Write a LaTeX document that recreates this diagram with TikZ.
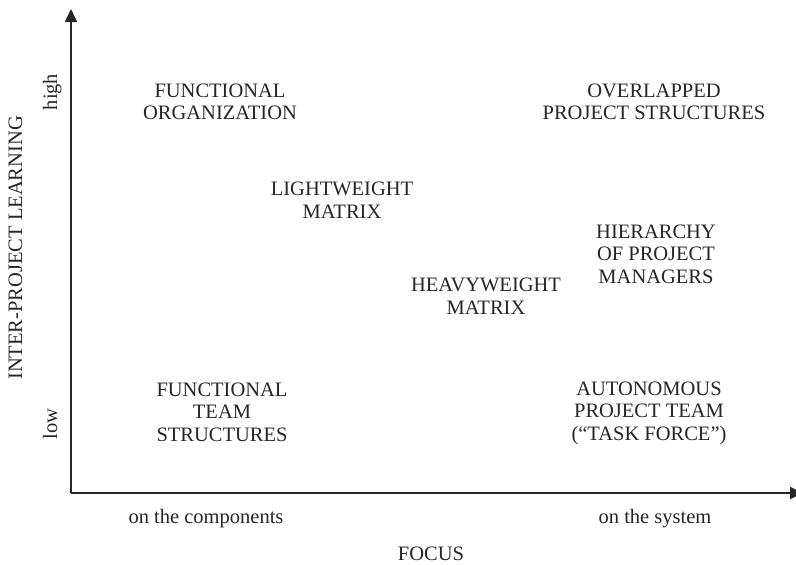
\documentclass[tikz,border=0pt]{standalone}
\usepackage{fontspec}
\setmainfont{Liberation Serif}
\usetikzlibrary{arrows.meta}
\begin{document}
\begin{tikzpicture}[x=1pt,y=-1pt,
  lbl/.style={align=center,font=\fontsize{20.5}{22.5}\selectfont,text=black!85,inner sep=0pt},
  ax/.style={line width=1.7pt,draw=black!85,-{Triangle[length=13pt,width=12pt]}}]
\useasboundingbox (0,0) rectangle (796,565);
\coordinate (o) at (71,493);
\coordinate (ytop) at (71,9);
\coordinate (xend) at (803,493);
\draw[ax] (o) -- (ytop);
\draw[ax] (o) -- (xend);
\node[lbl] (fo) at (220,102) {FUNCTIONAL\\ORGANIZATION};
\node[lbl] (ops) at (654,102) {OVERLAPPED\\PROJECT STRUCTURES};
\node[lbl] (lm) at (342,200) {LIGHTWEIGHT\\MATRIX};
\node[lbl] (hpm) at (656,254) {HIERARCHY\\OF PROJECT\\MANAGERS};
\node[lbl] (hm) at (486,296) {HEAVYWEIGHT\\MATRIX};
\node[lbl] (fts) at (222,412) {FUNCTIONAL\\TEAM\\STRUCTURES};
\node[lbl] (apt) at (649,413) {AUTONOMOUS\\PROJECT TEAM\\(“TASK FORCE”)};
\node[lbl] (comp) at (206,519) {on the components};
\node[lbl] (sys) at (655,519) {on the system};
\node[lbl] (focus) at (431,554) {FOCUS};
\node[lbl,rotate=90,anchor=base] (ipl) at (22,248) {INTER-PROJECT LEARNING};
\node[lbl,rotate=90,anchor=base] (high) at (57,92) {high};
\node[lbl,rotate=90,anchor=base] (low) at (57,424) {low};
\end{tikzpicture}
\end{document}
